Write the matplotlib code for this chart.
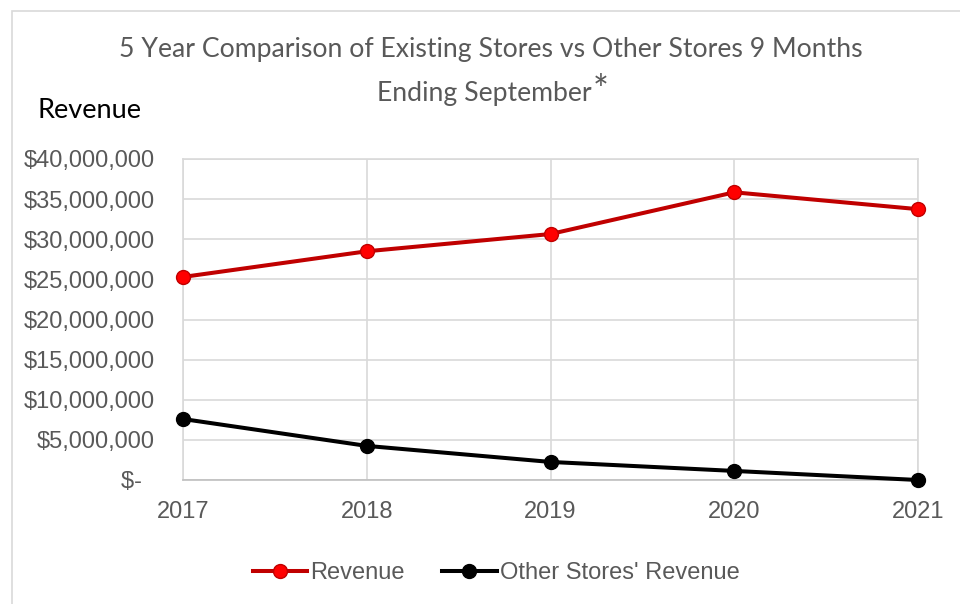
import matplotlib
matplotlib.use('Agg')
import matplotlib.pyplot as plt
from matplotlib.patches import Rectangle
from matplotlib.ticker import FuncFormatter

years = ['2017', '2018', '2019', '2020', '2021']
revenue = [25300000, 28500000, 30650000, 35850000, 33750000]
other_revenue = [7600000, 4250000, 2250000, 1130000, 0]
y_ticks = [0, 5000000, 10000000, 15000000, 20000000, 25000000, 30000000, 35000000, 40000000]

grey_text = '#595959'
grid_grey = '#D9D9D9'

fig = plt.figure(figsize=(9.6, 6.04), dpi=100)
ax = fig.add_axes([183 / 960, 1 - 480 / 604, 735 / 960, 321 / 604])

x = list(range(len(years)))

# Existing stores revenue (red) and other stores (black)
ax.plot(x, revenue, color='#C00000', linewidth=2.9, marker='o', markersize=10,
        markerfacecolor='#FF0000', markeredgecolor='#C00000', markeredgewidth=1,
        label='Revenue', clip_on=False, zorder=3)
ax.plot(x, other_revenue, color='black', linewidth=2.9, marker='o', markersize=10,
        markerfacecolor='black', markeredgecolor='black',
        label="Other Stores' Revenue", clip_on=False, zorder=3)

ax.set_xlim(0, len(years) - 1)
ax.set_ylim(0, 40000000)
ax.set_xticks(x)
ax.set_xticklabels(years)
ax.set_yticks(y_ticks)


def money(v, pos):
    if v == 0:
        return '$-  '
    return '${:,.0f}'.format(v)


ax.yaxis.set_major_formatter(FuncFormatter(money))

ax.grid(True, color=grid_grey, linewidth=1.2)
ax.set_axisbelow(True)
for side in ['top', 'right', 'left', 'bottom']:
    ax.spines[side].set_color(grid_grey)
    ax.spines[side].set_linewidth(1.2)
ax.spines['bottom'].set_color('#BFBFBF')

ax.tick_params(axis='both', length=0, labelcolor=grey_text, labelsize=17)
ax.tick_params(axis='y', pad=20)
ax.tick_params(axis='x', pad=15)
for lab in ax.get_xticklabels() + ax.get_yticklabels():
    lab.set_fontfamily('Liberation Sans')

# Titles
fig.text(491 / 960, 1 - 50 / 604, '5 Year Comparison of Existing Stores vs Other Stores 9 Months',
         ha='center', va='center', fontsize=19.2, color=grey_text, fontfamily='Lato')
t2 = fig.text(484 / 960, 1 - 93 / 604, 'Ending September',
              ha='center', va='center', fontsize=19.2, color=grey_text, fontfamily='Lato')
fig.canvas.draw()
bb = t2.get_window_extent()
fig.text((bb.x1 + 1) / 960, (bb.y1 + 6) / 604, '*', ha='left', va='top',
         fontsize=27, color=grey_text, fontfamily='Lato')

fig.text(37 / 960, 1 - 111 / 604, 'Revenue', ha='left', va='center',
         fontsize=19.5, color='black', fontfamily='Lato')

leg = fig.legend(loc='center', bbox_to_anchor=(496 / 960, 1 - 573 / 604), ncol=2,
                 frameon=False, handlelength=2.3, handletextpad=0.13, columnspacing=1.6,
                 prop={'family': 'Liberation Sans', 'size': 17})
for txt in leg.get_texts():
    txt.set_color(grey_text)

# outer chart border
fig.patches.append(Rectangle((12 / 960, -0.1), 1.2, 1 - 11 / 604 + 0.1,
                             transform=fig.transFigure, fill=False,
                             edgecolor='#D9D9D9', linewidth=1.2))

fig.savefig('out.png', dpi=100)
